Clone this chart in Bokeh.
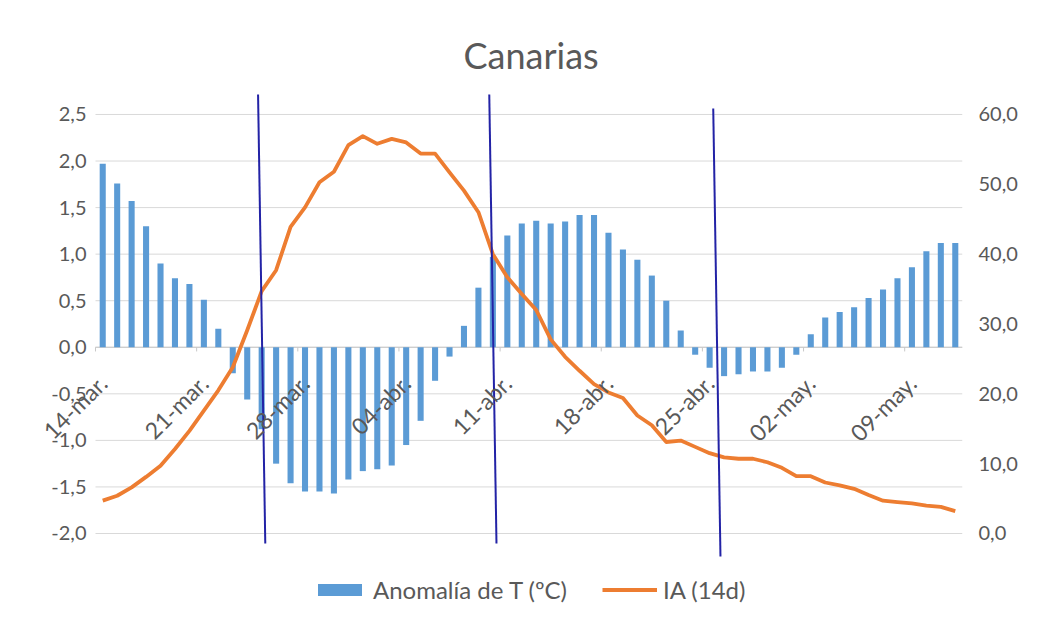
import math
import pandas as pd
from bokeh.plotting import figure
from bokeh.models import (Range1d, LinearAxis, FixedTicker, CustomJSTickFormatter,
                          Legend, LegendItem, ColumnDataSource, LabelSet)
from bokeh.core.properties import value
from bokeh.embed import file_html
from bokeh.resources import INLINE

# --- data -------------------------------------------------------------
MESES = {3: "mar.", 4: "abr.", 5: "may."}
fechas = pd.date_range("2020-03-14", "2020-05-12", freq="D")
dias = [f"{d.day:02d}-{MESES[d.month]}" for d in fechas]

# daily temperature anomaly (ºC)
anomalia = [1.97, 1.76, 1.57, 1.30, 0.90, 0.74, 0.68, 0.51, 0.20, -0.28,
            -0.56, -0.88, -1.25, -1.46, -1.55, -1.55, -1.57, -1.42, -1.33, -1.31,
            -1.27, -1.05, -0.79, -0.36, -0.10, 0.23, 0.64, 0.97, 1.20, 1.33,
            1.36, 1.33, 1.35, 1.42, 1.42, 1.23, 1.05, 0.94, 0.77, 0.50,
            0.18, -0.08, -0.22, -0.31, -0.29, -0.26, -0.26, -0.22, -0.08, 0.14,
            0.32, 0.38, 0.43, 0.53, 0.62, 0.74, 0.86, 1.03, 1.12, 1.12]

# 14-day cumulative incidence
ia_14d = [4.7, 5.4, 6.6, 8.1, 9.7, 12.1, 14.7, 17.6, 20.5, 23.8,
          29.1, 34.7, 37.7, 43.9, 46.7, 50.3, 51.8, 55.6, 56.9, 55.8,
          56.5, 56.0, 54.4, 54.4, 51.7, 49.1, 46.0, 40.0, 36.7, 34.3,
          32.0, 27.8, 25.3, 23.3, 21.4, 20.2, 19.4, 16.9, 15.5, 13.1,
          13.3, 12.4, 11.5, 10.9, 10.7, 10.7, 10.2, 9.4, 8.2, 8.2,
          7.3, 6.9, 6.4, 5.5, 4.7, 4.5, 4.3, 4.0, 3.8, 3.2]

ticks_anomalia = [-2.0, -1.5, -1.0, -0.5, 0.0, 0.5, 1.0, 1.5, 2.0, 2.5]
ticks_ia = [0, 10, 20, 30, 40, 50, 60]

# dates marked with vertical reference lines (the last one falls between two days)
marcas = ["25-mar.", "10-abr.", "25-abr."]
marcas_desplaz = [0.0, 0.0, 0.5]

# --- figure -----------------------------------------------------------
GRIS = "#595959"
FUENTE = "Lato"

n = len(dias)
idx = list(range(n))
src = ColumnDataSource(dict(x=idx, dia=dias, anomalia=anomalia, ia=ia_14d))

# the frame reaches left past the value axis so the first date label is not cut
margen_izq = 4.152
p = figure(width=1045, height=628, output_backend="svg", toolbar_location=None,
           x_range=Range1d(-0.5 - margen_izq, n - 0.5), y_range=Range1d(-2.827, 2.779),
           x_axis_type=None, title="Canarias",
           min_border_left=35, min_border_right=83,
           min_border_top=88, min_border_bottom=18)
p.extra_y_ranges = {"ia": Range1d(-11.03, 63.72)}
p.outline_line_color = None
p.background_fill_color = "white"
p.border_fill_color = "white"
p.ygrid.visible = False

p.title.text_font = FUENTE
p.title.text_font_size = "36px"
p.title.text_font_style = "normal"
p.title.text_color = GRIS
p.title.align = "left"
p.title.offset = 428
p.title.standoff = 23

fmt = CustomJSTickFormatter(code="return tick.toFixed(1).replace('.', ',');")


def estilo_eje(ax, standoff):
    ax.axis_line_color = None
    ax.major_tick_line_color = None
    ax.minor_tick_line_color = None
    ax.major_tick_in = 0
    ax.major_tick_out = 0
    ax.major_label_text_font = FUENTE
    ax.major_label_text_font_size = "20px"
    ax.major_label_text_color = GRIS
    ax.major_label_standoff = standoff
    ax.formatter = fmt


eje_izq = p.yaxis[0]
eje_izq.ticker = FixedTicker(ticks=ticks_anomalia)
estilo_eje(eje_izq, -51)

eje_der = LinearAxis(y_range_name="ia", ticker=FixedTicker(ticks=ticks_ia))
estilo_eje(eje_der, 16)
p.add_layout(eje_der, "right")

# horizontal gridlines across the plotting area only
p.segment(x0=[-0.5] * len(ticks_anomalia), y0=ticks_anomalia,
          x1=[n - 0.5] * len(ticks_anomalia), y1=ticks_anomalia,
          line_color="#d9d9d9", line_width=1)

# horizontal category axis at zero, with weekly tick marks
p.segment(x0=[-0.5], y0=[0], x1=[n - 0.5], y1=[0], line_color="#c8c8c8", line_width=1)
semanas = list(range(0, n + 1, 7))
p.segment(x0=[k - 0.5 for k in semanas], y0=[0] * len(semanas),
          x1=[k - 0.5 for k in semanas], y1=[-0.045] * len(semanas),
          line_color="#c8c8c8", line_width=1)

barras = p.vbar(x="x", top="anomalia", bottom=0, width=0.42, source=src,
                fill_color="#5b9bd5", line_color=None)

# weekly date labels, rotated, hanging from the zero line
etiquetas = [k for k in semanas if k < n]
src_et = ColumnDataSource(dict(x=etiquetas, y=[-0.34] * len(etiquetas),
                               texto=[dias[k] for k in etiquetas]))
p.add_layout(LabelSet(x="x", y="y", text="texto", source=src_et,
                      angle=math.pi / 4, text_align="right", text_baseline="middle",
                      text_font=value(FUENTE), text_font_size=value("23px"),
                      text_color=GRIS))

linea = p.line(x="x", y="ia", y_range_name="ia", source=src,
               line_color="#ed7d31", line_width=3.8, line_join="round")

# slanted vertical reference lines at the marked dates
pos = [dias.index(m) + d for m, d in zip(marcas, marcas_desplaz)]
p.segment(x0=[k - 0.25 for k in pos], y0=[2.715, 2.715, 2.564],
          x1=[k + 0.25 for k in pos], y1=[-2.107, -2.107, -2.247],
          line_color="#2323a6", line_width=2)

leyenda = Legend(items=[LegendItem(label="Anomalía de T (ºC)", renderers=[barras]),
                        LegendItem(label="IA (14d)", renderers=[linea])],
                 orientation="horizontal", location=(277, 6),
                 glyph_width=55, glyph_height=15, spacing=35, label_standoff=6,
                 label_text_font=FUENTE, label_text_font_size="24px",
                 label_text_color=GRIS, border_line_color=None,
                 background_fill_alpha=0, padding=4, margin=0)
p.add_layout(leyenda)

open("out.html", "w").write(file_html(p, INLINE))
